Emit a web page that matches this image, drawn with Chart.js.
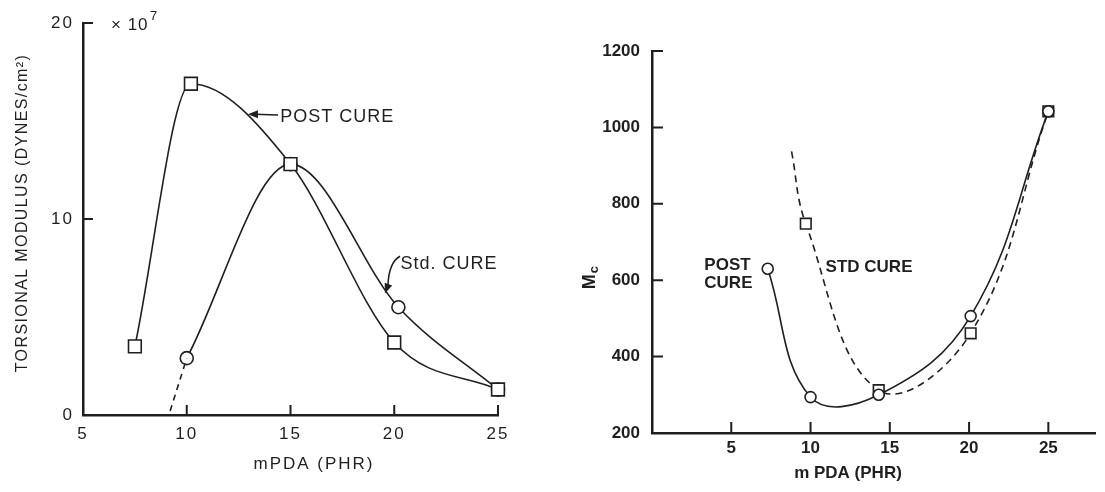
<!DOCTYPE html>
<html>
<head>
<meta charset="utf-8">
<script src="https://cdn.jsdelivr.net/npm/chart.js@4"></script>
<style>
  body { margin: 0; background: #fff; }
  #wrap { position: relative; width: 1105px; height: 492px; }
  canvas { position: absolute; top: 0; }
</style>
</head>
<body>
<div id="wrap">
  <canvas id="modulusChart" width="540" height="492" style="left:0"></canvas>
  <canvas id="mcChart" width="565" height="492" style="left:540px"></canvas>
</div>
<script>
// torsional modulus (x 10^7 dynes/cm2) against mPDA level
const modPostX = [7.5, 10.2, 15, 20, 25];
const modPostY = [3.5, 16.9, 12.8, 3.7, 1.3];
const modStdX = [10, 15, 20.2, 25];
const modStdY = [2.9, 12.8, 5.5, 1.3];
const modStdExtX = [9.2, 10];
const modStdExtY = [0.2, 2.9];
const modXTicks = [5, 10, 15, 20, 25];
const modYTicks = [0, 10, 20];

// Mc against mPDA level
const mcPostX = [7.3, 10, 14.3, 20.1, 25];
const mcPostY = [630, 294, 300, 506, 1042];
const mcStdX = [8.8, 9.7, 14.3, 20.1, 25];
const mcStdY = [937, 748, 312, 461, 1042];
const mcXTicks = [5, 10, 15, 20, 25];
const mcYTicks = [200, 400, 600, 800, 1000, 1200];

const ink = '#1f1f1f';
const fam = "'Liberation Sans', Arial, sans-serif";
Chart.defaults.font.family = fam;
Chart.defaults.color = ink;

function pts(xs, ys) {
    return xs.map((x, i) => ({ x: x, y: ys[i] }));
}

function fixTicks(values) {
    return scale => { scale.ticks = values.map(v => ({ value: v })); };
}

// tick marks drawn on the inside of the axes
const inwardTicks = {
    id: 'inwardTicks',
    afterDraw(chart, args, opts) {
        const { ctx, chartArea: a, scales: { x, y } } = chart;
        ctx.save();
        ctx.strokeStyle = ink;
        ctx.lineWidth = 2;
        ctx.beginPath();
        opts.x.forEach(v => {
            if (v === x.min) return;
            const px = x.getPixelForValue(v);
            ctx.moveTo(px, a.bottom);
            ctx.lineTo(px, a.bottom - opts.len);
        });
        opts.y.forEach(v => {
            if (v === y.min) return;
            const py = y.getPixelForValue(v);
            ctx.moveTo(a.left, py);
            ctx.lineTo(a.left + opts.len, py);
        });
        ctx.stroke();
        ctx.restore();
    }
};

function arrowHead(ctx, x, y, angle, size) {
    ctx.save();
    ctx.translate(x, y);
    ctx.rotate(angle);
    ctx.beginPath();
    ctx.moveTo(0, 0);
    ctx.lineTo(size, -size * 0.4);
    ctx.lineTo(size, size * 0.4);
    ctx.closePath();
    ctx.fill();
    ctx.restore();
}

// labels, arrows and titles of the modulus plot
const modNotes = {
    id: 'modNotes',
    beforeDraw(chart) {
        chart.ctx.letterSpacing = '2px';
    },
    afterDraw(chart) {
        const { ctx, chartArea: a, scales: { x, y } } = chart;
        ctx.save();
        ctx.fillStyle = ink;
        ctx.strokeStyle = ink;
        ctx.lineWidth = 1.5;
        ctx.textBaseline = 'middle';
        ctx.letterSpacing = '1px';
        ctx.font = '18px ' + fam;
        ctx.fillText('POST CURE', x.getPixelForValue(14.5), y.getPixelForValue(15.2));
        const p0x = x.getPixelForValue(14.4), p0y = y.getPixelForValue(15.3);
        const p1x = x.getPixelForValue(12.95), p1y = y.getPixelForValue(15.35);
        ctx.beginPath();
        ctx.moveTo(p0x, p0y);
        ctx.lineTo(p1x + 6, p1y);
        ctx.stroke();
        arrowHead(ctx, p1x, p1y, 0, 10);

        ctx.fillText('Std. CURE', x.getPixelForValue(20.3), y.getPixelForValue(7.7));
        const s0x = x.getPixelForValue(20.28), s0y = y.getPixelForValue(8.1);
        const s1x = x.getPixelForValue(19.55), s1y = y.getPixelForValue(6.2);
        ctx.beginPath();
        ctx.moveTo(s0x, s0y);
        ctx.quadraticCurveTo(s1x + 4, s0y + 6, s1x + 3, s1y - 8);
        ctx.stroke();
        arrowHead(ctx, s1x, s1y, -Math.PI / 2.6, 10);

        // exponent marker next to the top of the axis
        ctx.letterSpacing = '1px';
        ctx.font = '17px ' + fam;
        ctx.textBaseline = 'alphabetic';
        ctx.fillText('× 10', a.left + 28, a.top + 7);
        ctx.font = '13px ' + fam;
        ctx.fillText('7', a.left + 67, a.top - 3);

        ctx.textBaseline = 'middle';
        ctx.textAlign = 'center';
        ctx.font = '17px ' + fam;
        ctx.letterSpacing = '2px';
        ctx.fillText('mPDA (PHR)', a.left + 231, 464);

        ctx.translate(23, (a.top + a.bottom) / 2 - 6);
        ctx.rotate(-Math.PI / 2);
        ctx.font = '16px ' + fam;
        ctx.letterSpacing = '1.4px';
        ctx.fillText('TORSIONAL MODULUS (DYNES/cm²)', 0, 0);
        ctx.restore();
    }
};

// labels and titles of the Mc plot
const mcNotes = {
    id: 'mcNotes',
    afterDraw(chart) {
        const { ctx, chartArea: a, scales: { x, y } } = chart;
        ctx.save();
        ctx.fillStyle = ink;
        ctx.textBaseline = 'middle';
        ctx.font = 'bold 17px ' + fam;
        ctx.fillText('POST', x.getPixelForValue(3.3), y.getPixelForValue(640));
        ctx.fillText('CURE', x.getPixelForValue(3.3), y.getPixelForValue(593));
        ctx.fillText('STD CURE', x.getPixelForValue(10.95), y.getPixelForValue(635));

        ctx.textAlign = 'center';
        ctx.fillText('m PDA (PHR)', a.left + 196, 473);

        ctx.translate(50, y.getPixelForValue(605));
        ctx.rotate(-Math.PI / 2);
        ctx.textAlign = 'left';
        ctx.font = 'bold 18px ' + fam;
        ctx.fillText('M', -11, 0);
        ctx.font = 'bold 13px ' + fam;
        ctx.fillText('c', 5, 4);
        ctx.restore();
    }
};

const markerBase = {
    borderColor: ink,
    borderWidth: 1.6,
    pointBackgroundColor: '#fff',
    pointBorderColor: ink,
    pointBorderWidth: 1.6,
    fill: false,
    clip: false
};

new Chart(document.getElementById('modulusChart'), {
    type: 'line',
    data: {
        datasets: [
            Object.assign({}, markerBase, {
                label: 'Std. cure (extrapolated)',
                data: pts(modStdExtX, modStdExtY),
                borderDash: [6, 5],
                pointRadius: 0
            }),
            Object.assign({}, markerBase, {
                label: 'Post cure',
                data: pts(modPostX, modPostY),
                cubicInterpolationMode: 'monotone',
                pointStyle: 'rect',
                pointRadius: 9
            }),
            Object.assign({}, markerBase, {
                label: 'Std. cure',
                data: pts(modStdX, modStdY),
                cubicInterpolationMode: 'monotone',
                pointStyle: 'circle',
                pointRadius: 6.5
            })
        ]
    },
    options: {
        responsive: false,
        animation: false,
        events: [],
        layout: { padding: { top: 23, right: 42, left: 0, bottom: 0 } },
        plugins: {
            legend: { display: false },
            tooltip: { enabled: false },
            inwardTicks: { x: modXTicks, y: modYTicks, len: 10 }
        },
        scales: {
            x: {
                type: 'linear',
                min: 5,
                max: 25,
                afterBuildTicks: fixTicks(modXTicks),
                afterFit: s => { s.height = 77; },
                grid: { display: false, drawTicks: false },
                border: { display: true, color: ink, width: 2.5 },
                ticks: { padding: 9, font: { size: 17 }, color: ink, callback: v => String(v) }
            },
            y: {
                type: 'linear',
                min: 0,
                max: 20,
                afterBuildTicks: fixTicks(modYTicks),
                afterFit: s => { s.width = 83; },
                grid: { display: false, drawTicks: false },
                border: { display: true, color: ink, width: 2.5 },
                ticks: { padding: 9, font: { size: 17 }, color: ink, callback: v => String(v) }
            }
        }
    },
    plugins: [inwardTicks, modNotes]
});

new Chart(document.getElementById('mcChart'), {
    type: 'line',
    data: {
        datasets: [
            Object.assign({}, markerBase, {
                label: 'Post cure',
                data: pts(mcPostX, mcPostY),
                tension: 0.4,
                pointStyle: 'circle',
                pointRadius: 5.5
            }),
            Object.assign({}, markerBase, {
                label: 'Std cure',
                data: pts(mcStdX, mcStdY),
                tension: 0.4,
                borderDash: [7, 5],
                pointStyle: 'rect',
                pointRadius: [0, 7.5, 7.5, 7.5, 7.5]
            })
        ]
    },
    options: {
        responsive: false,
        animation: false,
        events: [],
        layout: { padding: { top: 51, right: 6, left: 0, bottom: 0 } },
        plugins: {
            legend: { display: false },
            tooltip: { enabled: false },
            inwardTicks: { x: mcXTicks, y: mcYTicks, len: 11 }
        },
        scales: {
            x: {
                type: 'linear',
                min: 0,
                max: 28,
                afterBuildTicks: fixTicks(mcXTicks),
                afterFit: s => { s.height = 59; },
                grid: { display: false, drawTicks: false },
                border: { display: true, color: ink, width: 2.5 },
                ticks: { padding: 5, font: { size: 17, weight: 'bold' }, color: ink, callback: v => String(v) }
            },
            y: {
                type: 'linear',
                min: 200,
                max: 1200,
                afterBuildTicks: fixTicks(mcYTicks),
                afterFit: s => { s.width = 112; },
                grid: { display: false, drawTicks: false },
                border: { display: true, color: ink, width: 2.5 },
                ticks: { padding: 12, font: { size: 17, weight: 'bold' }, color: ink, callback: v => String(v) }
            }
        }
    },
    plugins: [inwardTicks, mcNotes]
});
</script>
</body>
</html>
